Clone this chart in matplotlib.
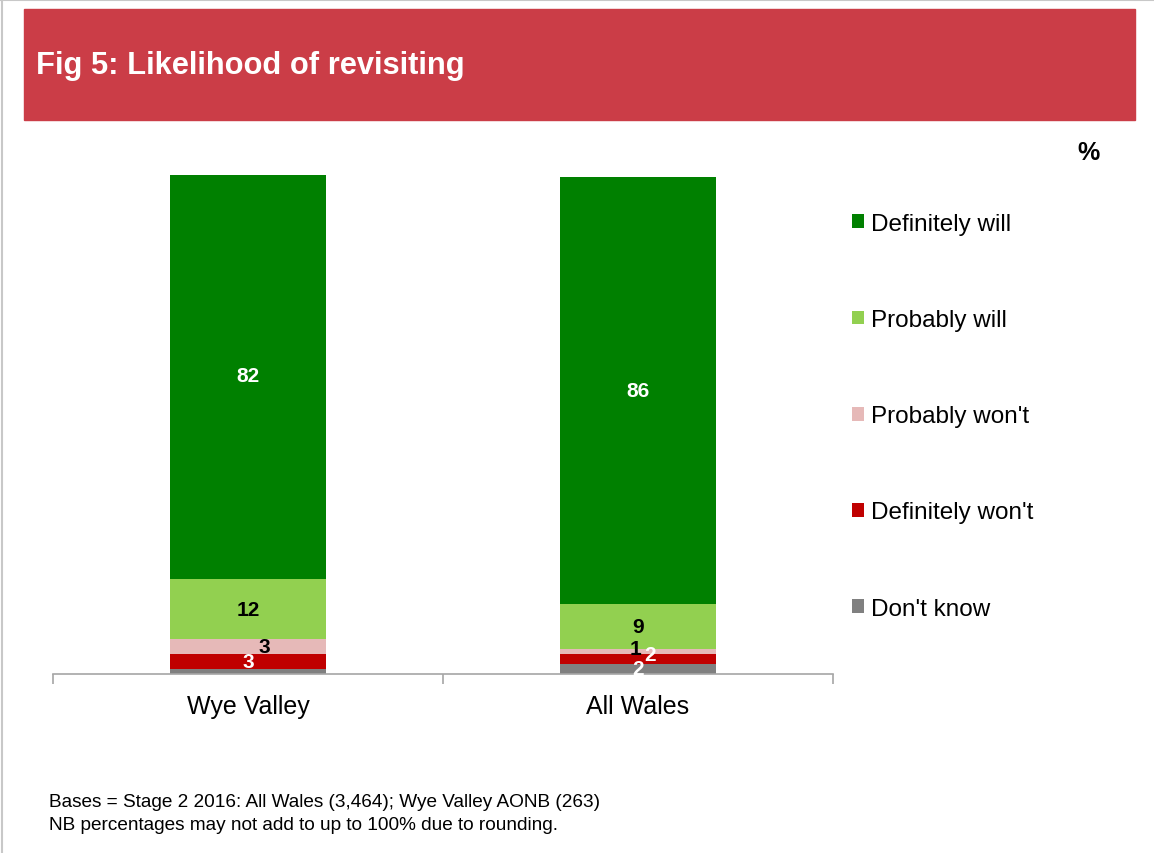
import matplotlib
matplotlib.use("Agg")
import matplotlib.pyplot as plt
from matplotlib.patches import Rectangle, Patch
from matplotlib.lines import Line2D

plt.rcParams["font.family"] = ["Liberation Sans", "DejaVu Sans"]

# survey results, % of visitors
locations = ["Wye Valley", "All Wales"]
responses = ["Don't know", "Definitely won't", "Probably won't", "Probably will", "Definitely will"]
dont_know = [1, 2]
definitely_wont = [3, 2]
probably_wont = [3, 1]
probably_will = [12, 9]
definitely_will = [82, 86]

series = [dont_know, definitely_wont, probably_wont, probably_will, definitely_will]
colors = ["#808080", "#C00000", "#E6B9B8", "#92D050", "#008000"]
label_colors = ["white", "white", "black", "black", "white"]
# which segments carry a value label (the tiny Wye Valley "don't know" has none)
show_label = [[False, True], [True, True], [True, True], [True, True], [True, True]]
# nudges (points) so the small labels don't sit on top of each other
label_nudge = {(2, 0): (12, 0), (2, 1): (-2, 2), (1, 1): (9, 3)}

W, H = 1154, 854
fig = plt.figure(figsize=(W / 100, H / 100), dpi=100)

# page frame + header band
fig.add_artist(Line2D([0, 1], [1 - 1 / H, 1 - 1 / H], transform=fig.transFigure, color="#c8c8c8", lw=1.5))
fig.add_artist(Line2D([2 / W, 2 / W], [0, 1], transform=fig.transFigure, color="#c8c8c8", lw=1.5))
fig.patches.append(Rectangle((24 / W, 1 - 121 / H), 1111 / W, 111 / H,
                             transform=fig.transFigure, color="#CB3D47", zorder=0))
fig.text(36 / W, 1 - 66 / H, "Fig 5: Likelihood of revisiting", color="white",
         fontsize=22.2, fontweight="bold", va="center", ha="left")

ax = fig.add_axes([53 / W, 179.5 / H, 780 / W, (674.5 - 176) / H])
x = list(range(len(locations)))
bottom = [0] * len(locations)
for i, vals in enumerate(series):
    ax.bar(x, vals, width=0.4, bottom=bottom, color=colors[i], linewidth=0, label=responses[i])
    for j, v in enumerate(vals):
        if show_label[i][j]:
            dx, dy = label_nudge.get((i, j), (0, 0))
            ax.annotate(f"{v}", (x[j], bottom[j] + v / 2), xytext=(dx, dy),
                        textcoords="offset points", ha="center", va="center",
                        fontsize=15, fontweight="bold", color=label_colors[i])
    bottom = [b + v for b, v in zip(bottom, vals)]

ax.set_xlim(-0.5, 1.5)
ax.set_ylim(0, 100.5)
for side in ["left", "right", "top"]:
    ax.spines[side].set_visible(False)
ax.spines["bottom"].set_color("#A6A6A6")
ax.spines["bottom"].set_linewidth(1.2)
ax.set_yticks([])
ax.set_xticks(x)
ax.set_xticklabels(locations, fontsize=18)
ax.tick_params(axis="x", which="major", length=0, pad=15)
ax.set_xticks([-0.5, 0.5, 1.5], minor=True)
ax.tick_params(axis="x", which="minor", length=7, width=1.2, color="#A6A6A6")

handles = [Patch(facecolor=colors[i], edgecolor="none") for i in range(len(series))][::-1]
fig.legend(handles, responses[::-1], loc="upper left", bbox_to_anchor=(852 / W, 1 - 214 / H),
           frameon=False, fontsize=17.5, handlelength=0.5, handleheight=0.5,
           handletextpad=0.3, labelspacing=3.05, borderpad=0, borderaxespad=0)

fig.text(1088 / W, 1 - 153 / H, "%", fontsize=18, fontweight="bold", ha="center", va="center")

fig.text(49 / W, 1 - 803 / H, "Bases = Stage 2 2016: All Wales (3,464); Wye Valley AONB (263)",
         fontsize=13.7, va="center")
fig.text(49 / W, 1 - 826 / H, "NB percentages may not add to up to 100% due to rounding.",
         fontsize=13.7, va="center")

fig.savefig("out.png", dpi=100)
